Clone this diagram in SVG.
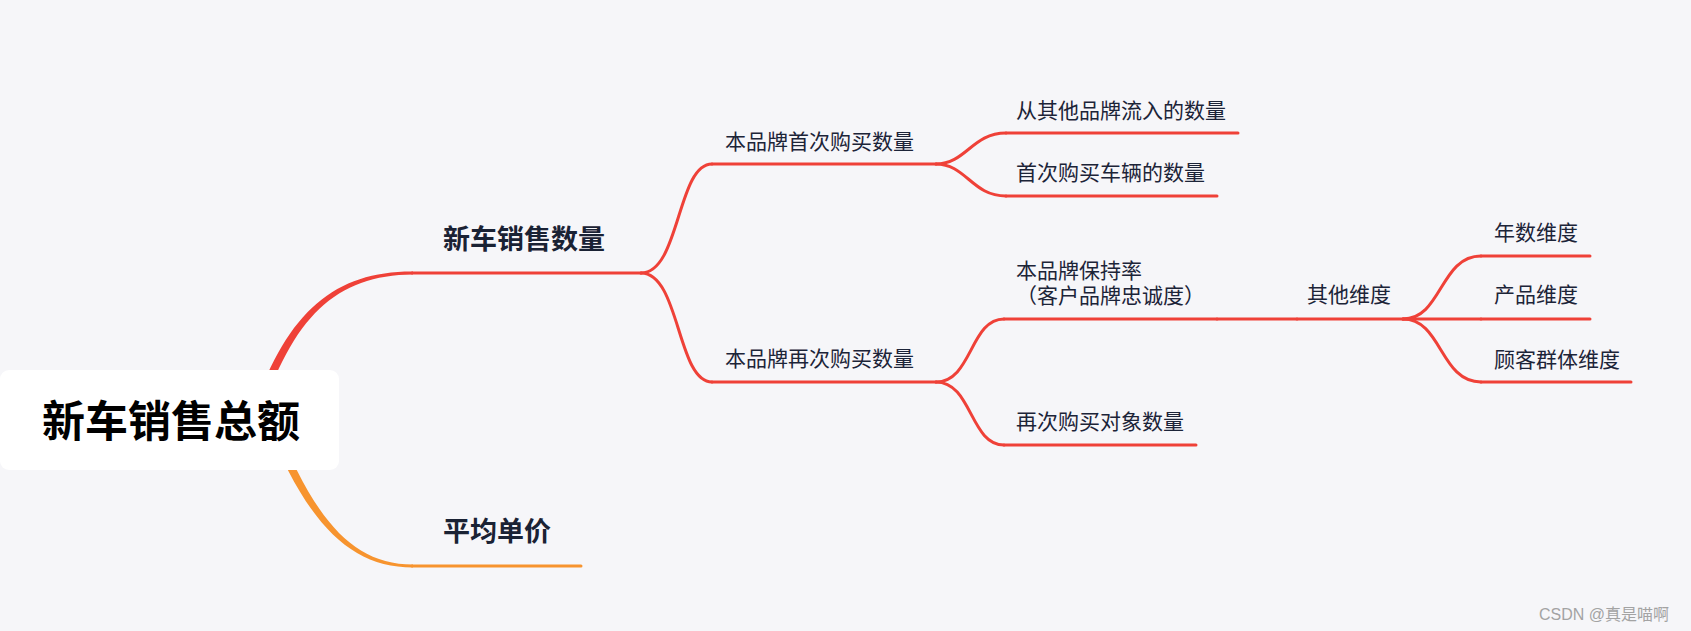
<svg xmlns="http://www.w3.org/2000/svg" width="1691" height="631" viewBox="0 0 1691 631">
<style>
.bg{fill:#f6f6f9}
.ln{fill:none;stroke:#ef4138;stroke-width:3;stroke-linecap:round}
.lo{fill:none;stroke:#f7942f;stroke-width:3;stroke-linecap:round}
.t{font-family:"Noto Sans CJK SC","Noto Sans",sans-serif;font-size:21px;fill:#1c2438}
.b{font-family:"Noto Sans CJK SC","Noto Sans",sans-serif;font-size:27px;font-weight:bold;fill:#1a2234}
.r{font-family:"Noto Sans CJK SC","Noto Sans",sans-serif;font-size:43px;font-weight:bold;fill:#000}
.wm{font-family:"Liberation Sans","Noto Sans CJK SC",sans-serif;font-size:16px;fill:#a3a3a3}
</style>
<rect class="bg" x="0" y="0" width="1691" height="631"/>
<g id="connectors">
<path d="M 250.5,420 C 284,313 334,271 413,271.5 L 413,274.5 C 336,275 292,317 259.5,420 Z" fill="#ef4138"/>
<path d="M 265.5,420 C 306,522 349,567.5 413,567.5 L 413,564.5 C 351,564.5 314,518 274.5,420 Z" fill="#f7942f"/>
<path class="ln" d="M 641,273 C 680,273 677,164 712,164"/>
<path class="ln" d="M 641,273 C 680,273 677,382 712,382"/>
<path class="ln" d="M 936,164 C 966,164 972,133 1006,133"/>
<path class="ln" d="M 936,164 C 966,164 972,196 1006,196"/>
<path class="ln" d="M 936,382 C 972,382 970,319 1004,319"/>
<path class="ln" d="M 936,382 C 972,382 970,445 1004,445"/>
<path class="ln" d="M 1217,319 L 1297,319"/>
<path class="ln" d="M 1403,319 C 1442,319 1440,256 1481,256"/>
<path class="ln" d="M 1403,319 L 1481,319"/>
<path class="ln" d="M 1403,319 C 1442,319 1440,382 1481,382"/>
</g>
<g id="root">
<rect x="0" y="370" width="339" height="100" rx="9" fill="#ffffff"/>
<text class="r" x="42" y="437">新车销售总额</text>
</g>
<g id="n-xinche-shuliang">
<line class="ln" x1="412" y1="273" x2="641" y2="273"/>
<text class="b" x="443" y="249">新车销售数量</text>
</g>
<g id="n-pingjun-danjia">
<line class="lo" x1="412" y1="566" x2="581" y2="566"/>
<text class="b" x="443" y="541">平均单价</text>
</g>
<g id="n-shouci">
<line class="ln" x1="712" y1="164" x2="936" y2="164"/>
<text class="t" x="725" y="149">本品牌首次购买数量</text>
</g>
<g id="n-zaici">
<line class="ln" x1="712" y1="382" x2="936" y2="382"/>
<text class="t" x="725" y="366">本品牌再次购买数量</text>
</g>
<g id="n-liuru">
<line class="ln" x1="1006" y1="133" x2="1238" y2="133"/>
<text class="t" x="1016" y="118">从其他品牌流入的数量</text>
</g>
<g id="n-cheliang">
<line class="ln" x1="1006" y1="196" x2="1217" y2="196"/>
<text class="t" x="1016" y="180">首次购买车辆的数量</text>
</g>
<g id="n-baochilv">
<line class="ln" x1="1004" y1="319" x2="1217" y2="319"/>
<text class="t"><tspan x="1016" y="278">本品牌保持率</tspan><tspan x="1016" y="303">（客户品牌忠诚度）</tspan></text>
</g>
<g id="n-duixiang">
<line class="ln" x1="1004" y1="445" x2="1196" y2="445"/>
<text class="t" x="1016" y="429">再次购买对象数量</text>
</g>
<g id="n-qita">
<line class="ln" x1="1297" y1="319" x2="1403" y2="319"/>
<text class="t" x="1307" y="302">其他维度</text>
</g>
<g id="n-nianshu">
<line class="ln" x1="1481" y1="256" x2="1590" y2="256"/>
<text class="t" x="1494" y="240">年数维度</text>
</g>
<g id="n-chanpin">
<line class="ln" x1="1481" y1="319" x2="1590" y2="319"/>
<text class="t" x="1494" y="302">产品维度</text>
</g>
<g id="n-guke">
<line class="ln" x1="1481" y1="382" x2="1631" y2="382"/>
<text class="t" x="1494" y="367">顾客群体维度</text>
</g>
<text class="wm" x="1539" y="620">CSDN @真是喵啊</text>
</svg>
